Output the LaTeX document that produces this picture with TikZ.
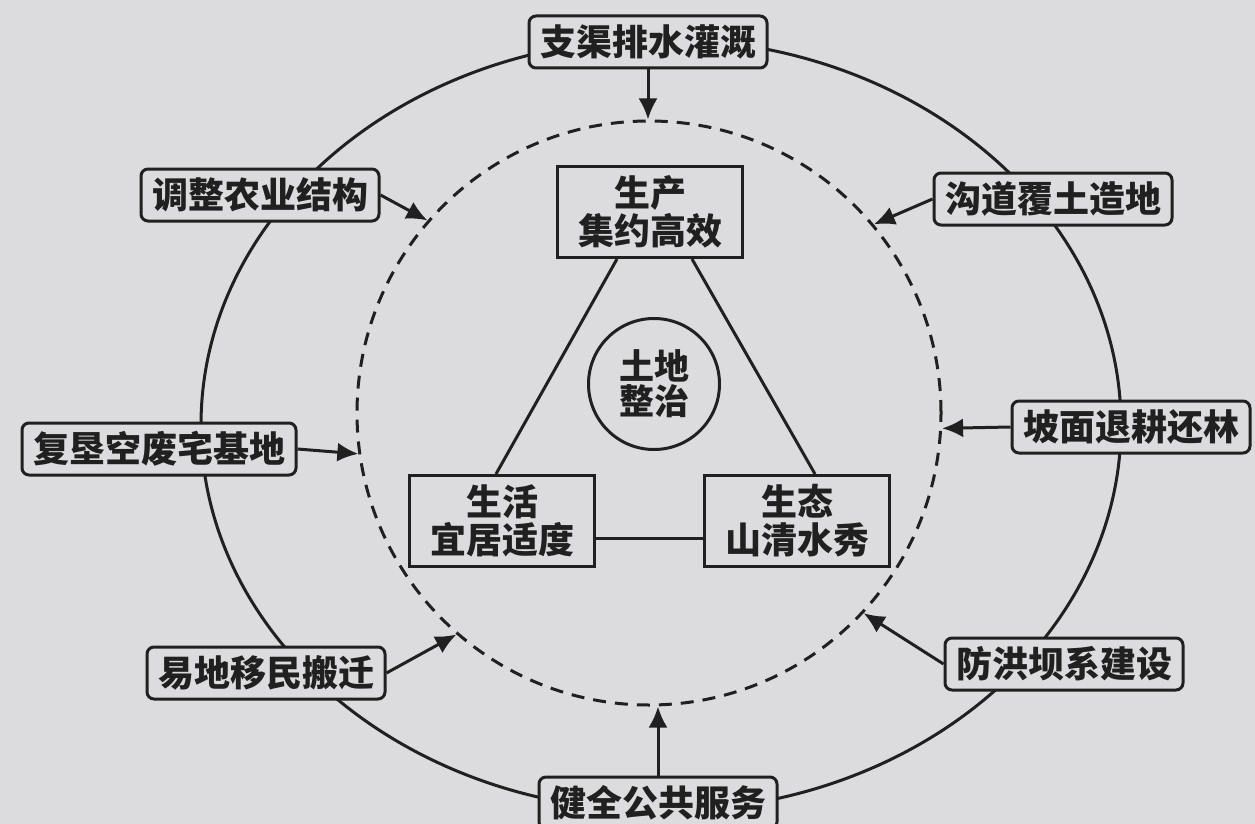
\documentclass[tikz,border=0pt]{standalone}
\usepackage{fontspec}
\setmainfont{Noto Sans CJK SC}
\usetikzlibrary{arrows.meta}
\definecolor{bg}{RGB}{220,220,222}
\definecolor{ink}{RGB}{32,32,32}
\begin{document}
\begin{tikzpicture}[x=1pt,y=-1pt,line width=3pt,draw=ink,text=ink,
  lab/.style={draw, rounded corners=7pt, fill=bg, font=\fontsize{36}{40}\selectfont\bfseries,
    inner xsep=11pt, inner ysep=0pt, minimum height=52pt},
  cbox/.style={draw, fill=bg, minimum width=185pt, minimum height=91pt, align=center,
    inner sep=0pt, font=\fontsize{36}{38}\selectfont\bfseries},
  hubc/.style={draw, circle, fill=bg, minimum size=131pt, inner sep=0pt, align=center,
    font=\fontsize{35}{35}\selectfont\bfseries},
  arr/.style={-{Latex[length=21pt,width=19pt]}},
  link/.style={}]
\fill[bg] (0,0) rectangle (1255,824);
\useasboundingbox (0,0) rectangle (1255,824);
% outer ring
\draw (661,425) ellipse [x radius=460pt, y radius=386pt];
% inner dashed circle
\node[circle, draw, dash pattern=on 13pt off 9pt, minimum size=584pt, inner sep=0pt] (inner) at (649,413) {};
% labels on the ring
\node[lab] (lab1) at (648,42)  {支渠排水灌溉};
\node[lab] (lab2) at (260,195) {调整农业结构};
\node[lab] (lab3) at (1053,199) {沟道覆土造地};
\node[lab] (lab4) at (159,449) {复垦空废宅基地};
\node[lab] (lab5) at (1131,427) {坡面退耕还林};
\node[lab] (lab6) at (266,673) {易地移民搬迁};
\node[lab] (lab7) at (1064,664) {防洪坝系建设};
\node[lab] (lab8) at (658,803) {健全公共服务};
% centre
\node[cbox] (prod) at (650,212) {生产\\集约高效};
\node[cbox] (life) at (502,521) {生活\\宜居适度};
\node[cbox] (eco)  at (797,521) {生态\\山清水秀};
\node[hubc] (hub)  at (654,384) {土地\\整治};
\draw[link] ([xshift=-33pt]prod.south) -- ([xshift=-6pt]life.north);
\draw[link] ([xshift=42pt]prod.south) -- ([xshift=18pt]eco.north);
\draw[link] ([yshift=-17pt]life.east) -- ([yshift=-17pt]eco.west);
% arrows
\draw[arr] (lab1.south) -- (lab1.south |- inner.north);
\draw[arr] (lab2.east) -- (inner.139);
\draw[arr] (lab3.west) -- (inner.40);
\draw[arr] (lab4.east) -- (inner.188);
\draw[arr] (lab5.west) -- (inner.357);
\draw[arr] (lab6.east) -- (inner.229);
\draw[arr] (lab7.west) -- (inner.317);
\draw[arr] (lab8.north) -- (lab8.north |- inner.south);
\end{tikzpicture}
\end{document}
